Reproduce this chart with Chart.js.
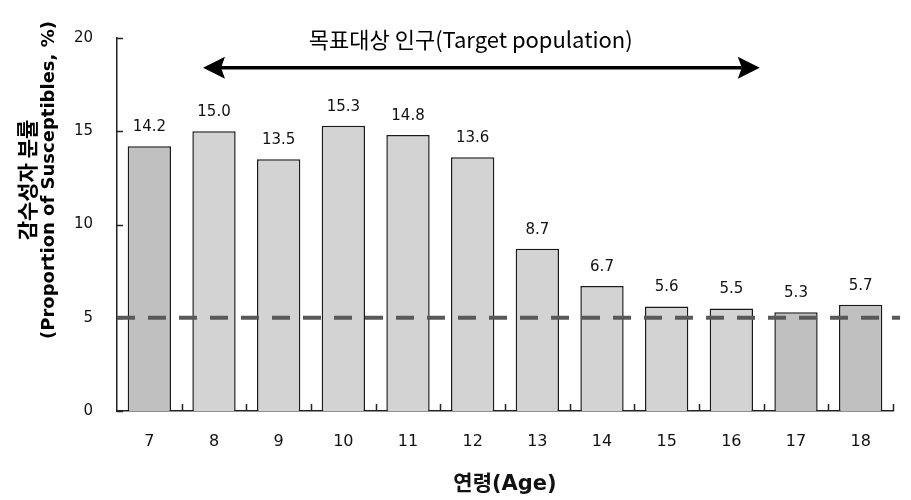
<!DOCTYPE html>
<html>
<head>
<meta charset="utf-8">
<script src="https://cdn.jsdelivr.net/npm/chart.js@4/dist/chart.umd.min.js"></script>
<style>
  body { margin: 0; background: #fff; }
  #wrap { width: 911px; height: 500px; }
</style>
</head>
<body>
<div id="wrap"><canvas id="chart" width="911" height="500"></canvas></div>
<script>
// ages on the x axis and share of susceptibles (%) per age
const ages = ['7', '8', '9', '10', '11', '12', '13', '14', '15', '16', '17', '18'];
const susceptibles = [14.2, 15.0, 13.5, 15.3, 14.8, 13.6, 8.7, 6.7, 5.6, 5.5, 5.3, 5.7];
// ages outside the target population get the darker fill
const outsideTarget = ['7', '17', '18'];
const yTicks = [0, 5, 10, 15, 20];
const threshold = 5;

// target-population arrow, in category-index units / y values
const arrowFrom = 0.83;
const arrowTo = 9.44;
const arrowY = 18.4;
const arrowLabel = '목표대상 인구(Target population)';
const arrowLabelX = 4.97;
const arrowLabelY = 19.9;

const yTitleKo = '감수성자 분률';
const yTitleEn = '(Proportion of Susceptibles, %)';
const xTitle = '연령(Age)';

const FONT = '"DejaVu Sans", "Noto Sans CJK KR", sans-serif';
const KFONT = '"Noto Sans CJK KR", "DejaVu Sans", sans-serif';

const barColors = ages.map(a => outsideTarget.includes(a) ? '#c0c0c0' : '#d3d3d3');

const decor = {
    id: 'decor',
    afterDraw(chart) {
        const { ctx, chartArea, scales: { x, y } } = chart;
        ctx.save();

        // inward tick marks
        ctx.strokeStyle = '#222';
        ctx.lineWidth = 1.5;
        ctx.beginPath();
        for (const v of yTicks) {
            const py = Math.round(y.getPixelForValue(v)) + 0.5;
            ctx.moveTo(chartArea.left, py);
            ctx.lineTo(chartArea.left + 6, py);
        }
        for (let i = 0; i < ages.length; i++) {
            const px = Math.round(x.getPixelForValue(i + 0.5)) + 0.5;
            ctx.moveTo(px, chartArea.bottom);
            ctx.lineTo(px, chartArea.bottom - 7);
        }
        ctx.stroke();

        // threshold line
        const ty = y.getPixelForValue(threshold);
        ctx.strokeStyle = '#595959';
        ctx.lineWidth = 4;
        ctx.setLineDash([18, 13]);
        ctx.beginPath();
        ctx.moveTo(chartArea.left, ty);
        ctx.lineTo(chartArea.right + 7, ty);
        ctx.stroke();
        ctx.setLineDash([]);

        // value labels
        const meta = chart.getDatasetMeta(0);
        ctx.fillStyle = '#111';
        ctx.font = '15px ' + FONT;
        ctx.textAlign = 'center';
        ctx.textBaseline = 'middle';
        meta.data.forEach((bar, i) => {
            ctx.fillText(susceptibles[i].toFixed(1), bar.x, bar.y - 19);
        });

        // arrow
        const ax1 = x.getPixelForValue(arrowFrom);
        const ax2 = x.getPixelForValue(arrowTo);
        const ay = y.getPixelForValue(arrowY);
        const head = 22, half = 11;
        ctx.strokeStyle = '#000';
        ctx.fillStyle = '#000';
        ctx.lineWidth = 3.5;
        ctx.beginPath();
        ctx.moveTo(ax1 + head - 4, ay);
        ctx.lineTo(ax2 - head + 4, ay);
        ctx.stroke();
        ctx.beginPath();
        ctx.moveTo(ax1, ay);
        ctx.lineTo(ax1 + head, ay - half);
        ctx.lineTo(ax1 + head - 4, ay);
        ctx.lineTo(ax1 + head, ay + half);
        ctx.closePath();
        ctx.moveTo(ax2, ay);
        ctx.lineTo(ax2 - head, ay - half);
        ctx.lineTo(ax2 - head + 4, ay);
        ctx.lineTo(ax2 - head, ay + half);
        ctx.closePath();
        ctx.fill();

        ctx.font = '22px ' + KFONT;
        ctx.fillText(arrowLabel, x.getPixelForValue(arrowLabelX), y.getPixelForValue(arrowLabelY));

        // y title, two rotated lines
        ctx.translate(38, 180);
        ctx.rotate(-Math.PI / 2);
        ctx.font = 'bold 21px ' + KFONT;
        ctx.fillText(yTitleKo, 0, -11);
        ctx.font = 'bold 18px ' + FONT;
        ctx.fillText(yTitleEn, 0, 11);
        ctx.restore();
    }
};

new Chart(document.getElementById('chart'), {
    type: 'bar',
    data: {
        labels: ages,
        datasets: [{
            data: susceptibles,
            backgroundColor: barColors,
            borderColor: '#1a1a1a',
            borderWidth: 1.5,
            categoryPercentage: 1,
            barPercentage: 0.67,
        }],
    },
    options: {
        responsive: false,
        animation: false,
        layout: { padding: { left: 0, right: 18, top: 38, bottom: 0 } },
        plugins: { legend: { display: false }, tooltip: { enabled: false } },
        scales: {
            x: {
                grid: { display: false, drawTicks: false },
                border: { color: '#222', width: 1.5 },
                ticks: { color: '#111', font: { family: FONT, size: 16 }, padding: 21 },
                title: {
                    display: true, text: xTitle, color: '#111',
                    font: { family: FONT, size: 21, weight: 'bold' },
                    padding: { top: 0, bottom: 3 },
                },
                afterFit: s => { s.height = 89; },
            },
            y: {
                min: 0,
                max: 20,
                grid: { display: false, drawTicks: false },
                border: { color: '#222', width: 1.5 },
                ticks: { stepSize: 5, color: '#111', font: { family: FONT, size: 15 }, padding: 24 },
                afterFit: s => { s.width = 117; },
            },
        },
    },
    plugins: [decor],
});
</script>
</body>
</html>
